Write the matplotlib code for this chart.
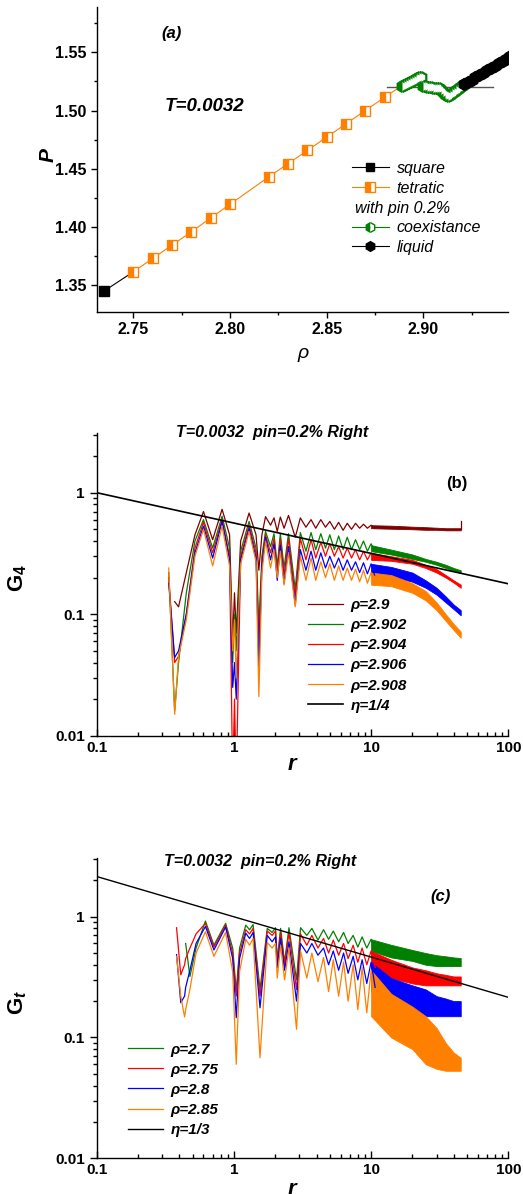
import numpy as np
import matplotlib
matplotlib.use('Agg')
from matplotlib import pyplot as plt
from matplotlib.lines import Line2D
from matplotlib.ticker import MultipleLocator, FormatStrFormatter, LogLocator, NullFormatter

plt.rcParams['font.family'] = ['Liberation Sans', 'DejaVu Sans']
plt.rcParams['mathtext.fontset'] = 'custom'
plt.rcParams['mathtext.rm'] = 'Liberation Sans:bold'
plt.rcParams['mathtext.it'] = 'Liberation Sans:italic:bold'
plt.rcParams['mathtext.bf'] = 'Liberation Sans:bold'

nan = np.nan

# ---------------- panel (a): P(rho) ----------------
rho_square = [2.735]
p_square = [1.345]
rho_tetratic = [2.75, 2.76, 2.77, 2.78, 2.79, 2.80, 2.82, 2.83, 2.84, 2.85, 2.86, 2.87, 2.88]
p_tetratic = [1.3614, 1.3729, 1.3843, 1.3957, 1.4077, 1.4194, 1.4429, 1.4543, 1.4657,
              1.4771, 1.4886, 1.5000, 1.5114]
rho_coex = [2.889, 2.890, 2.891, 2.892, 2.893, 2.894, 2.895, 2.896, 2.897, 2.898, 2.899,
            2.900, 2.901, 2.902, 2.903, 2.904, 2.905, 2.906, 2.907, 2.908, 2.909, 2.910,
            2.911, 2.912, 2.913, 2.914, 2.915, 2.916, 2.917, 2.918, 2.919, 2.920, 2.921]
p_coex = [1.5215, 1.5222, 1.5232, 1.5240, 1.5248, 1.5256, 1.5264, 1.5272, 1.5280, 1.5288, 1.5290,
          1.5215, 1.5210, 1.5206, 1.5204, 1.5200, 1.5198, 1.5195, 1.5195, 1.5190, 1.5175, 1.5160,
          1.5145, 1.5135, 1.5128, 1.5138, 1.5150, 1.5162, 1.5175, 1.5188, 1.5200, 1.5213, 1.5226]
rho_liquid = [2.921, 2.923, 2.925, 2.927, 2.929, 2.931, 2.933, 2.935, 2.937, 2.939, 2.941,
              2.943, 2.945, 2.947, 2.949]
p_liquid = [1.5226, 1.5246, 1.5266, 1.5286, 1.5306, 1.5326, 1.5346, 1.5366, 1.5386, 1.5406,
            1.5426, 1.5446, 1.5466, 1.5486, 1.5506]
rho_hline = [2.881, 2.936]
p_hline = [1.5206, 1.5206]

# ---------------- panel (b): G4(r) ----------------
r_b = [0.335, 0.37, 0.395, 0.45, 0.52, 0.60, 0.70, 0.82, 0.93, 0.98, 1.01, 1.04, 1.12,
       1.29, 1.45, 1.52, 1.60, 1.70, 1.85, 1.96, 2.07, 2.18, 2.32, 2.50, 2.80, 3.05, 3.35,
       3.65, 3.95, 4.3, 4.65, 5.0, 5.4, 5.8, 6.25, 6.7, 7.2, 7.7, 8.25, 8.8, 9.4, 10.0, 10.6]
g4_2900 = [nan, 0.127, 0.115, 0.22, 0.45, 0.70, 0.41, 0.73, 0.45, 0.06, 0.15, 0.07, 0.40,
           0.68, 0.45, 0.23, 0.45, 0.635, 0.54, 0.62, 0.48, 0.63, 0.51, 0.65, 0.43, 0.62, 0.52,
           0.60, 0.51, 0.60, 0.52, 0.58, 0.50, 0.57, 0.49, 0.56, 0.50, 0.56, 0.51, 0.55, 0.51,
           0.54, 0.51]
g4_2902 = [0.22, 0.016, 0.04, 0.15, 0.40, 0.60, 0.35, 0.64, 0.35, 0.04, 0.10, 0.05, 0.33,
           0.58, 0.35, 0.08, 0.30, 0.48, 0.36, 0.46, 0.25, 0.46, 0.24, 0.46, 0.16, 0.47, 0.33,
           0.47, 0.34, 0.46, 0.35, 0.45, 0.34, 0.44, 0.34, 0.43, 0.34, 0.41, 0.34, 0.40, 0.33,
           0.38, 0.33]
g4_2904 = [0.20, 0.04, 0.045, 0.10, 0.35, 0.57, 0.32, 0.60, 0.30, 0.004, 0.02, 0.004, 0.30,
           0.54, 0.32, 0.058, 0.27, 0.45, 0.32, 0.42, 0.22, 0.42, 0.21, 0.42, 0.14, 0.42, 0.28,
           0.41, 0.29, 0.39, 0.30, 0.38, 0.30, 0.36, 0.29, 0.35, 0.29, 0.34, 0.28, 0.33, 0.28,
           0.32, 0.28]
g4_2906 = [0.18, 0.044, 0.05, 0.10, 0.32, 0.53, 0.29, 0.58, 0.28, 0.025, 0.04, 0.02, 0.28,
           0.51, 0.29, 0.037, 0.25, 0.43, 0.28, 0.38, 0.19, 0.37, 0.18, 0.36, 0.12, 0.34, 0.23,
           0.33, 0.23, 0.32, 0.24, 0.30, 0.24, 0.29, 0.23, 0.28, 0.23, 0.27, 0.22, 0.265, 0.215,
           0.26, 0.21]
g4_2908 = [0.24, 0.015, 0.045, 0.09, 0.30, 0.50, 0.25, 0.53, 0.25, 0.05, 0.09, 0.03, 0.26,
           0.48, 0.27, 0.021, 0.22, 0.40, 0.24, 0.34, 0.20, 0.33, 0.174, 0.32, 0.115, 0.30, 0.19,
           0.29, 0.19, 0.27, 0.20, 0.26, 0.19, 0.25, 0.19, 0.24, 0.19, 0.235, 0.185, 0.23, 0.18,
           0.22, 0.175]
# dense oscillating tails, upper / lower envelope
r_b_tail = [10, 14, 20, 25, 30, 35, 40, 45]
g4_2900_hi = [0.54, 0.535, 0.525, 0.52, 0.515, 0.51, 0.51, 0.51]
g4_2900_lo = [0.51, 0.505, 0.50, 0.495, 0.495, 0.49, 0.49, 0.49]
g4_2902_hi = [0.37, 0.34, 0.31, 0.285, 0.27, 0.255, 0.24, 0.23]
g4_2902_lo = [0.33, 0.31, 0.285, 0.27, 0.255, 0.24, 0.228, 0.218]
g4_2904_hi = [0.32, 0.30, 0.28, 0.255, 0.235, 0.21, 0.19, 0.175]
g4_2904_lo = [0.28, 0.275, 0.26, 0.24, 0.22, 0.20, 0.182, 0.165]
g4_2906_hi = [0.26, 0.245, 0.22, 0.19, 0.165, 0.14, 0.12, 0.108]
g4_2906_lo = [0.21, 0.205, 0.185, 0.165, 0.145, 0.125, 0.11, 0.098]
g4_2908_hi = [0.22, 0.21, 0.18, 0.155, 0.125, 0.10, 0.083, 0.072]
g4_2908_lo = [0.175, 0.17, 0.15, 0.13, 0.108, 0.088, 0.074, 0.064]
r_end_2900 = [45, 45]
g_end_2900 = [0.50, 0.58]
r_eta_b = [0.1, 100]
g_eta_b = [1.0, 0.178]

# ---------------- panel (c): Gt(r) ----------------
r_c = [0.382, 0.41, 0.437, 0.445, 0.478, 0.53, 0.62, 0.715, 0.87, 0.98, 1.04, 1.10, 1.22,
       1.30, 1.38, 1.55, 1.75, 1.90, 2.01, 2.07, 2.19, 2.34, 2.52, 2.86, 3.06, 3.4, 3.7, 4.1,
       4.5, 4.9, 5.3, 5.8, 6.3, 6.8, 7.4, 8.0, 8.6, 9.3, 10.0, 10.7]
gt_270 = [nan, nan, nan, 0.60, 0.32, 0.55, 0.92, 0.58, 0.88, 0.55, 0.24, 0.55, 0.85, 0.78,
          0.86, 0.25, 0.80, 0.74, 0.81, 0.44, 0.80, 0.42, 0.81, 0.30, 0.81, 0.70, 0.80, 0.64,
          0.78, 0.65, 0.76, 0.62, 0.74, 0.60, 0.70, 0.56, 0.68, 0.55, 0.65, 0.52]
gt_275 = [0.81, 0.33, 0.40, 0.45, 0.55, 0.72, 0.88, 0.56, 0.85, 0.50, 0.22, 0.50, 0.78, 0.72,
          0.80, 0.22, 0.76, 0.70, 0.76, 0.42, 0.74, 0.40, 0.74, 0.25, 0.72, 0.58, 0.70, 0.55,
          0.66, 0.50, 0.64, 0.48, 0.60, 0.45, 0.58, 0.42, 0.55, 0.40, 0.52, 0.38]
gt_280 = [0.485, 0.194, 0.22, 0.26, 0.36, 0.60, 0.83, 0.53, 0.82, 0.45, 0.146, 0.45, 0.73, 0.66,
          0.74, 0.176, 0.70, 0.62, 0.68, 0.38, 0.66, 0.36, 0.62, 0.20, 0.60, 0.50, 0.60, 0.48,
          0.55, 0.40, 0.52, 0.36, 0.50, 0.34, 0.47, 0.30, 0.44, 0.28, 0.42, 0.26]
gt_285 = [0.47, 0.22, 0.148, 0.17, 0.25, 0.50, 0.75, 0.47, 0.74, 0.35, 0.06, 0.35, 0.65, 0.58,
          0.66, 0.068, 0.61, 0.55, 0.60, 0.31, 0.58, 0.30, 0.55, 0.117, 0.52, 0.31, 0.50, 0.29,
          0.46, 0.24, 0.44, 0.22, 0.42, 0.20, 0.40, 0.17, 0.38, 0.16, 0.36, 0.15]
r_c_tail = [10, 14, 20, 25, 30, 35, 40, 45]
gt_270_hi = [0.65, 0.585, 0.53, 0.50, 0.48, 0.47, 0.46, 0.455]
gt_270_lo = [0.52, 0.46, 0.43, 0.40, 0.39, 0.39, 0.39, 0.39]
gt_275_hi = [0.52, 0.44, 0.38, 0.36, 0.34, 0.33, 0.32, 0.32]
gt_275_lo = [0.38, 0.31, 0.28, 0.27, 0.27, 0.27, 0.27, 0.27]
gt_280_hi = [0.42, 0.31, 0.27, 0.25, 0.22, 0.21, 0.20, 0.20]
gt_280_lo = [0.24, 0.18, 0.16, 0.15, 0.15, 0.15, 0.15, 0.15]
gt_285_hi = [0.36, 0.23, 0.18, 0.15, 0.12, 0.09, 0.075, 0.068]
gt_285_lo = [0.15, 0.10, 0.08, 0.06, 0.055, 0.053, 0.053, 0.053]
r_eta_c = [0.1, 100]
g_eta_c = [2.15, 0.215]

ORANGE = '#ff8000'
GREEN = '#008000'
DARKRED = '#800000'
RED = '#ff0000'
BLUE = '#0000ff'

fig = plt.figure(figsize=(5.23, 11.94), dpi=100)
ax_a = fig.add_axes([0.1849, 0.7389, 0.787, 0.2552])
ax_b = fig.add_axes([0.1849, 0.3838, 0.787, 0.2533])
ax_c = fig.add_axes([0.1849, 0.0299, 0.787, 0.2518])

bold_it = dict(fontweight='bold', fontstyle='italic')

for ax in (ax_a, ax_b, ax_c):
    ax.spines['top'].set_visible(False)
    ax.spines['right'].set_visible(False)
    for s in ('left', 'bottom'):
        ax.spines[s].set_linewidth(1.0)

# ---- (a)
ax = ax_a
ax.plot(rho_hline, p_hline, color='#555555', lw=1.0, zorder=1)
ax.plot([rho_square[0], rho_tetratic[0]], [p_square[0], p_tetratic[0]], color='black', lw=0.8)
ax.plot([rho_tetratic[-1], rho_coex[0]], [p_tetratic[-1], p_coex[0]], color=ORANGE, lw=0.8)
ax.plot(rho_square, p_square, 's', color='black', ms=6.5)
ax.plot(rho_tetratic, p_tetratic, '-s', color=ORANGE, lw=0.8, ms=7.5, fillstyle='left',
        markerfacecoloralt='white', markeredgecolor=ORANGE, markeredgewidth=1.0)
ax.plot(rho_coex, p_coex, '-h', color=GREEN, lw=0.8, ms=8, fillstyle='left',
        markerfacecoloralt='white', markeredgecolor=GREEN, markeredgewidth=1.6)
ax.plot(rho_liquid, p_liquid, '-h', color='black', lw=0.8, ms=8.5)
ax.set_xlim(2.731, 2.944)
ax.set_ylim(1.327, 1.589)
ax.xaxis.set_major_locator(MultipleLocator(0.05))
ax.xaxis.set_minor_locator(MultipleLocator(0.025))
ax.yaxis.set_major_locator(MultipleLocator(0.05))
ax.yaxis.set_minor_locator(MultipleLocator(0.025))
ax.xaxis.set_major_formatter(FormatStrFormatter('%.2f'))
ax.yaxis.set_major_formatter(FormatStrFormatter('%.2f'))
ax.tick_params(which='major', direction='out', length=4, width=1, labelsize=11.5)
ax.tick_params(which='minor', direction='out', length=2.5, width=1)
for lab in ax.get_xticklabels() + ax.get_yticklabels():
    lab.set_fontweight('bold')
ax.set_ylabel('P', fontsize=15, **bold_it)
ax.yaxis.set_label_coords(-0.095, 0.514)
ax.set_xlabel('ρ', fontsize=14, fontstyle='italic')
ax.xaxis.set_label_coords(0.501, -0.11)
ax.text(0.182, 0.914, '(a)', transform=ax.transAxes, ha='center', va='center', fontsize=12, **bold_it)
ax.text(0.263, 0.673, 'T=0.0032', transform=ax.transAxes, ha='center', va='center', fontsize=13.5, **bold_it)

handles = [
    Line2D([], [], color='black', lw=0.8, marker='s', ms=6),
    Line2D([], [], color=ORANGE, lw=0.8, marker='s', ms=7, fillstyle='left',
           markerfacecoloralt='white', markeredgecolor=ORANGE),
    Line2D([], [], color='none', lw=0),
    Line2D([], [], color=GREEN, lw=0.8, marker='h', ms=7, fillstyle='left',
           markerfacecoloralt='white', markeredgecolor=GREEN),
    Line2D([], [], color='black', lw=0.8, marker='h', ms=7),
]
labels = ['square', 'tetratic', ' ', 'coexistance', 'liquid']
ax.legend(handles, labels, loc='upper left', bbox_to_anchor=(0.62, 0.495), frameon=False,
          prop=dict(size=11.5, style='italic'), handlelength=2.3, handletextpad=0.5,
          labelspacing=0.3, borderpad=0, borderaxespad=0)
ax.text(0.6276, 0.340, 'with pin 0.2%', transform=ax.transAxes, ha='left', va='center',
        fontsize=11.5, fontstyle='italic')


def log_axes(ax):
    ax.set_xscale('log')
    ax.set_yscale('log')
    ax.set_xlim(0.1, 100)
    ax.set_ylim(0.01, 3.08)
    ax.set_xticks([0.1, 1, 10, 100])
    ax.set_xticklabels(['0.1', '1', '10', '100'])
    ax.set_yticks([0.01, 0.1, 1])
    ax.set_yticklabels(['0.01', '0.1', '1'])
    ax.xaxis.set_minor_locator(LogLocator(base=10, subs=np.arange(2, 10), numticks=20))
    ax.yaxis.set_minor_locator(LogLocator(base=10, subs=np.arange(2, 10), numticks=20))
    ax.xaxis.set_minor_formatter(NullFormatter())
    ax.yaxis.set_minor_formatter(NullFormatter())
    ax.tick_params(axis='x', which='major', direction='in', length=5, width=1, labelsize=11)
    ax.tick_params(axis='x', which='minor', direction='in', length=3, width=1)
    ax.tick_params(axis='y', which='major', direction='out', length=5, width=1, labelsize=11)
    ax.tick_params(axis='y', which='minor', direction='out', length=3, width=1)
    for lab in ax.get_xticklabels() + ax.get_yticklabels():
        lab.set_fontweight('bold')


# ---- (b)
ax = ax_b
log_axes(ax)
series_b = [
    (g4_2900, g4_2900_hi, g4_2900_lo, DARKRED, 'ρ=2.9'),
    (g4_2902, g4_2902_hi, g4_2902_lo, GREEN, 'ρ=2.902'),
    (g4_2904, g4_2904_hi, g4_2904_lo, RED, 'ρ=2.904'),
    (g4_2906, g4_2906_hi, g4_2906_lo, BLUE, 'ρ=2.906'),
    (g4_2908, g4_2908_hi, g4_2908_lo, ORANGE, 'ρ=2.908'),
]
lines_b = []
for vals, hi, lo, col, lab in series_b:
    ln, = ax.plot(r_b, vals, color=col, lw=0.9, label=lab)
    ax.fill_between(r_b_tail, lo, hi, color=col, lw=0.6)
    lines_b.append(ln)
ax.plot(r_end_2900, g_end_2900, color=DARKRED, lw=0.9)
ln, = ax.plot(r_eta_b, g_eta_b, color='black', lw=1.2, label='η=1/4')
lines_b.append(ln)
ax.legend(handles=lines_b, loc='upper left', bbox_to_anchor=(0.513, 0.455), frameon=False,
          prop=dict(size=11, style='italic', weight='bold'), handlelength=2.3,
          handletextpad=0.5, labelspacing=0.4, borderpad=0, borderaxespad=0)
ax.set_ylabel(r'G$_{\mathit{4}}$', fontsize=16, fontweight='bold')
ax.yaxis.set_label_coords(-0.165, 0.52)
ax.set_xlabel('r', fontsize=16, **bold_it)
ax.xaxis.set_label_coords(0.474, -0.06)
ax.text(0.425, 1.004, 'T=0.0032  pin=0.2% Right', transform=ax.transAxes, ha='center',
        va='center', fontsize=11.5, **bold_it)
ax.text(0.875, 0.835, '(b)', transform=ax.transAxes, ha='center', va='center',
        fontsize=12, fontweight='bold')

# ---- (c)
ax = ax_c
log_axes(ax)
series_c = [
    (gt_270, gt_270_hi, gt_270_lo, GREEN, 'ρ=2.7'),
    (gt_275, gt_275_hi, gt_275_lo, RED, 'ρ=2.75'),
    (gt_280, gt_280_hi, gt_280_lo, BLUE, 'ρ=2.8'),
    (gt_285, gt_285_hi, gt_285_lo, ORANGE, 'ρ=2.85'),
]
lines_c = []
for vals, hi, lo, col, lab in series_c:
    ln, = ax.plot(r_c, vals, color=col, lw=0.9, label=lab)
    ax.fill_between(r_c_tail, lo, hi, color=col, lw=0.6)
    lines_c.append(ln)
ln, = ax.plot(r_eta_c, g_eta_c, color='black', lw=1.0, label='η=1/3')
lines_c.append(ln)
ax.legend(handles=lines_c, loc='upper left', bbox_to_anchor=(0.075, 0.385), frameon=False,
          prop=dict(size=11, style='italic', weight='bold'), handlelength=2.3,
          handletextpad=0.5, labelspacing=0.4, borderpad=0, borderaxespad=0)
ax.set_ylabel(r'G$_{\mathit{t}}$', fontsize=16, fontweight='bold')
ax.yaxis.set_label_coords(-0.165, 0.52)
ax.set_xlabel('r', fontsize=16, **bold_it)
ax.xaxis.set_label_coords(0.474, -0.07)
ax.text(0.397, 0.987, 'T=0.0032  pin=0.2% Right', transform=ax.transAxes, ha='center',
        va='center', fontsize=11.5, **bold_it)
ax.text(0.836, 0.870, '(c)', transform=ax.transAxes, ha='center', va='center',
        fontsize=12, **bold_it)

fig.savefig('out.png', dpi=100)
